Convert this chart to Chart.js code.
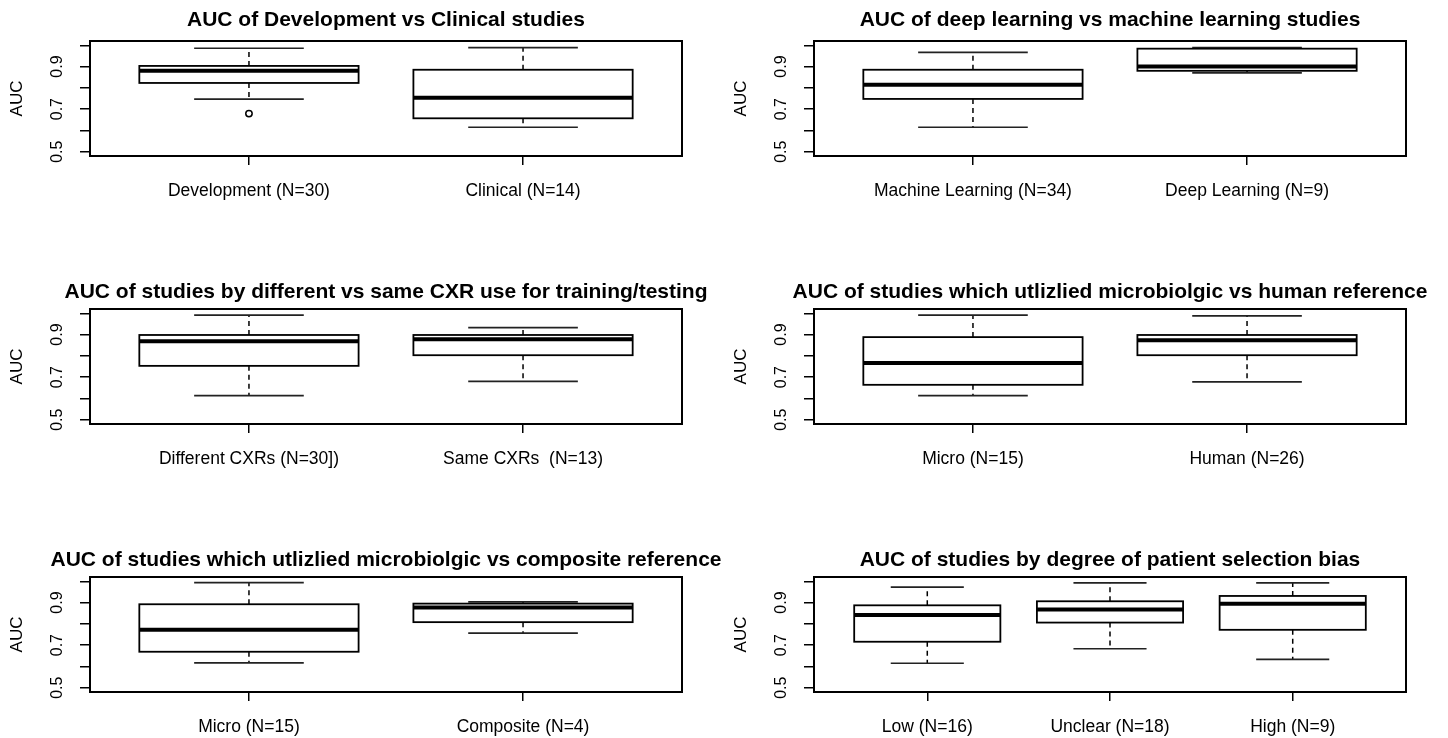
<!DOCTYPE html>
<html>
<head>
<meta charset="utf-8">
<script src="https://cdn.jsdelivr.net/npm/chart.js@4.4.1/dist/chart.umd.min.js"></script>
<style>
  html, body { margin: 0; padding: 0; background: #fff; overflow: hidden; }
  #wrap { position: relative; width: 1448px; height: 738px; }
  .panel { position: absolute; width: 724px; height: 202px; }
</style>
</head>
<body>
<div id="wrap"></div>
<script>
// panel titles and group labels
const titles = [
    'AUC of Development vs Clinical studies',
    'AUC of deep learning vs machine learning studies',
    'AUC of studies by different vs same CXR use for training/testing',
    'AUC of studies which utlizlied microbiolgic vs human reference',
    'AUC of studies which utlizlied microbiolgic vs composite reference',
    'AUC of studies by degree of patient selection bias'
];
const groupLabels = [
    ['Development (N=30)', 'Clinical (N=14)'],
    ['Machine Learning (N=34)', 'Deep Learning (N=9)'],
    ['Different CXRs (N=30])', 'Same CXRs  (N=13)'],
    ['Micro (N=15)', 'Human (N=26)'],
    ['Micro (N=15)', 'Composite (N=4)'],
    ['Low (N=16)', 'Unclear (N=18)', 'High (N=9)']
];

// box plot stats per panel, one value per group
const whiskerLow = [[0.747, 0.615], [0.615, 0.870], [0.613, 0.680], [0.613, 0.678], [0.617, 0.756], [0.615, 0.683, 0.633]];
const quart1     = [[0.823, 0.657], [0.748, 0.880], [0.753, 0.803], [0.664, 0.803], [0.669, 0.808], [0.716, 0.806, 0.772]];
const medians    = [[0.880, 0.753], [0.815, 0.900], [0.869, 0.878], [0.767, 0.873], [0.772, 0.877], [0.842, 0.867, 0.894]];
const quart3     = [[0.903, 0.885], [0.885, 0.984], [0.898, 0.898], [0.888, 0.898], [0.892, 0.895], [0.887, 0.906, 0.931]];
const whiskerHigh= [[0.986, 0.989], [0.967, 0.989], [0.991, 0.933], [0.991, 0.988], [0.994, 0.903], [0.972, 0.992, 0.992]];
const outliers   = [[{x: 1, y: 0.679}], [], [], [], [], []];

const yTicks = [0.5, 0.6, 0.7, 0.8, 0.9, 1.0];
const yLabelled = [0.5, 0.7, 0.9];

Chart.defaults.font.family = "'Liberation Sans', Arial, sans-serif";
Chart.defaults.color = '#000';

const rowTop = [0, 268, 536];
const titleY = [20, 24, 24.5];

// draws the boxes, whiskers, frame and title like R's boxplot()
const boxPlugin = {
    id: 'rbox',
    afterDatasetsDraw(chart) {
        const p = chart.options.plugins.rbox.panel;
        const {ctx, chartArea} = chart;
        const xs = chart.scales.x, ys = chart.scales.y;
        ctx.save();
        ctx.strokeStyle = '#000';
        for (let g = 0; g < medians[p].length; g++) {
            const cx = xs.getPixelForValue(g + 1);
            const hw = xs.getPixelForValue(g + 1.4) - cx;
            const cw = hw / 2;
            const yLo = ys.getPixelForValue(whiskerLow[p][g]);
            const yQ1 = ys.getPixelForValue(quart1[p][g]);
            const yMd = ys.getPixelForValue(medians[p][g]);
            const yQ3 = ys.getPixelForValue(quart3[p][g]);
            const yHi = ys.getPixelForValue(whiskerHigh[p][g]);
            // dashed whiskers
            ctx.lineWidth = 1.5;
            ctx.setLineDash([5, 4]);
            ctx.beginPath();
            ctx.moveTo(cx, yQ1); ctx.lineTo(cx, yLo);
            ctx.moveTo(cx, yQ3); ctx.lineTo(cx, yHi);
            ctx.stroke();
            ctx.setLineDash([]);
            // staples
            ctx.strokeStyle = '#222';
            ctx.lineWidth = 1.7;
            ctx.beginPath();
            ctx.moveTo(cx - cw, yLo); ctx.lineTo(cx + cw, yLo);
            ctx.moveTo(cx - cw, yHi); ctx.lineTo(cx + cw, yHi);
            ctx.stroke();
            ctx.strokeStyle = '#000';
            // box
            ctx.fillStyle = '#fff';
            ctx.fillRect(cx - hw, yQ3, hw * 2, yQ1 - yQ3);
            ctx.lineWidth = 1.8;
            ctx.strokeRect(cx - hw, yQ3, hw * 2, yQ1 - yQ3);
            // median
            ctx.lineWidth = 4;
            ctx.beginPath();
            ctx.moveTo(cx - hw, yMd); ctx.lineTo(cx + hw, yMd);
            ctx.stroke();
        }
        // frame
        ctx.lineWidth = 2;
        ctx.strokeRect(chartArea.left, chartArea.top, chartArea.right - chartArea.left, chartArea.bottom - chartArea.top);
        // title centred over the plot region
        ctx.fillStyle = '#000';
        ctx.font = "bold 21px 'Liberation Sans', Arial, sans-serif";
        ctx.textAlign = 'center';
        ctx.textBaseline = 'middle';
        ctx.fillText(titles[p], (chartArea.left + chartArea.right) / 2, titleY[chart.options.plugins.rbox.row]);
        ctx.restore();
    }
};

titles.forEach((t, p) => {
    const row = Math.floor(p / 2), col = p % 2;
    const div = document.createElement('div');
    div.className = 'panel';
    div.style.left = (col * 724) + 'px';
    div.style.top = rowTop[row] + 'px';
    const cv = document.createElement('canvas');
    cv.width = 724; cv.height = 202;
    div.appendChild(cv);
    document.getElementById('wrap').appendChild(div);

    const n = groupLabels[p].length;
    const xTicks = groupLabels[p].map((_, i) => i + 1);

    new Chart(cv.getContext('2d'), {
        type: 'scatter',
        data: {
            datasets: [{
                data: outliers[p],
                pointRadius: 3.2,
                borderColor: '#000',
                backgroundColor: 'rgba(0,0,0,0)',
                borderWidth: 1.5
            }]
        },
        options: {
            responsive: false,
            animation: false,
            layout: { padding: { left: 0, right: 42, top: 41, bottom: 0 } },
            plugins: {
                legend: { display: false },
                tooltip: { enabled: false },
                title: { display: false },
                rbox: { panel: p, row: row }
            },
            scales: {
                x: {
                    type: 'linear',
                    min: 0.5 - 0.04 * n,
                    max: n + 0.5 + 0.04 * n,
                    afterBuildTicks: s => { s.ticks = xTicks.map(v => ({ value: v })); },
                    afterFit: s => { s.height = 46; },
                    ticks: {
                        autoSkip: false,
                        maxRotation: 0,
                        padding: 16,
                        font: { size: 17.5 },
                        callback: v => groupLabels[p][v - 1]
                    },
                    grid: { drawOnChartArea: false, tickLength: 9, color: '#000', lineWidth: 1.5 },
                    border: { display: false }
                },
                y: {
                    min: 0.48,
                    max: 1.02,
                    afterBuildTicks: s => { s.ticks = yTicks.map(v => ({ value: v })); },
                    afterFit: s => { s.width = 90; },
                    ticks: {
                        autoSkip: false,
                        minRotation: 90,
                        maxRotation: 90,
                        crossAlign: 'center',
                        padding: 11,
                        font: { size: 16 },
                        callback: v => yLabelled.some(l => Math.abs(l - v) < 1e-6) ? v.toFixed(1) : ''
                    },
                    grid: { drawOnChartArea: false, tickLength: 10, color: '#000', lineWidth: 1.5 },
                    border: { display: false },
                    title: {
                        display: true,
                        text: 'AUC',
                        font: { size: 17 },
                        padding: { top: 7, bottom: 0 }
                    }
                }
            }
        },
        plugins: [boxPlugin]
    });
});
</script>
</body>
</html>
